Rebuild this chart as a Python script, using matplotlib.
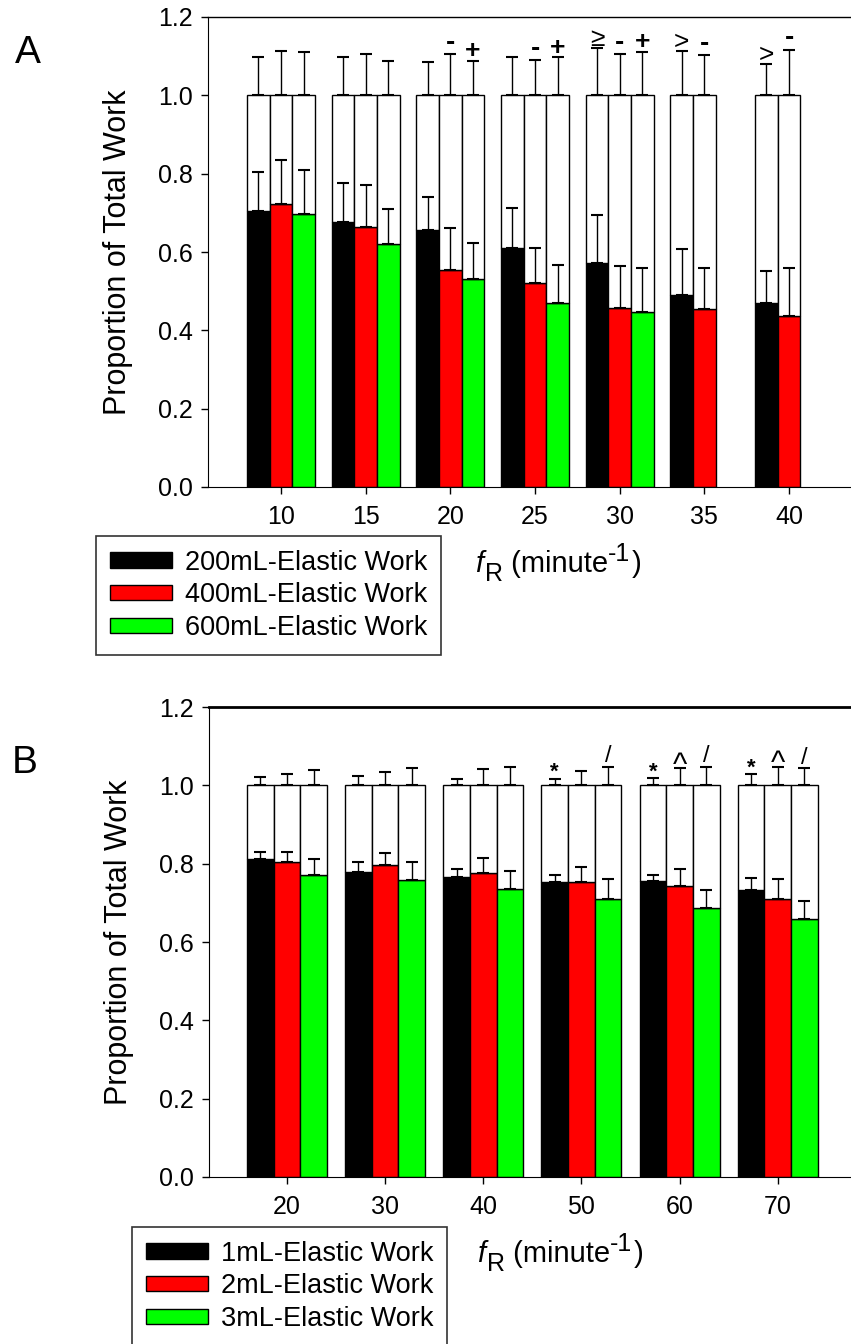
import numpy as np
import matplotlib.pyplot as plt
from matplotlib.patches import Patch

plt.rcParams['font.family'] = ['Liberation Sans', 'DejaVu Sans']

nan = np.nan

# ---- panel A: elastic work proportion vs fR, by tidal volume ----
freq_a = [10, 15, 20, 25, 30, 35, 40]
labels_a = ['200mL-Elastic Work', '400mL-Elastic Work', '600mL-Elastic Work']
elastic_a = [
    [0.704, 0.677, 0.655, 0.611, 0.572, 0.491, 0.470],
    [0.722, 0.663, 0.555, 0.520, 0.457, 0.454, 0.437],
    [0.696, 0.621, 0.532, 0.470, 0.447, nan, nan],
]
elastic_err_a = [
    [0.099, 0.100, 0.086, 0.101, 0.123, 0.116, 0.081],
    [0.114, 0.107, 0.107, 0.090, 0.108, 0.104, 0.121],
    [0.114, 0.090, 0.090, 0.098, 0.111, nan, nan],
]
total_err_a = [
    [0.098, 0.098, 0.084, 0.098, 0.120, 0.114, 0.081],
    [0.114, 0.105, 0.106, 0.091, 0.105, 0.102, 0.117],
    [0.111, 0.088, 0.088, 0.097, 0.111, nan, nan],
]
sig_a = [
    ['', '', '', '', '≥', '>', '>'],
    ['', '', '-', '-', '-', '-', '-'],
    ['', '', '+', '+', '+', '', ''],
]

# ---- panel B ----
freq_b = [20, 30, 40, 50, 60, 70]
labels_b = ['1mL-Elastic Work', '2mL-Elastic Work', '3mL-Elastic Work']
elastic_b = [
    [0.812, 0.780, 0.766, 0.753, 0.757, 0.734],
    [0.803, 0.796, 0.776, 0.752, 0.743, 0.711],
    [0.770, 0.759, 0.736, 0.711, 0.688, 0.659],
]
elastic_err_b = [
    [0.019, 0.025, 0.020, 0.019, 0.015, 0.029],
    [0.028, 0.031, 0.039, 0.040, 0.043, 0.049],
    [0.041, 0.046, 0.046, 0.049, 0.046, 0.045],
]
total_err_b = [
    [0.022, 0.025, 0.017, 0.017, 0.018, 0.028],
    [0.028, 0.034, 0.041, 0.037, 0.044, 0.048],
    [0.040, 0.045, 0.047, 0.048, 0.048, 0.044],
]
sig_b = [
    ['', '', '', '*', '*', '*'],
    ['', '', '', '', '^', '^'],
    ['', '', '', '/', '/', '/'],
]

colors = ['#000000', '#ff0000', '#00ff00']

# symbol style: fontsize, weight, baseline offset above the cap (points)
sym_style = {
    '-': (20, 'bold', 3.0),
    '+': (19, 'bold', 2.0),
    '>': (19, 'normal', 1.0),
    '≥': (19, 'normal', 2.0),
    '*': (16, 'bold', 0.5),
    '/': (17, 'normal', 3.0),
    '^': (22, 'normal', -4.0),
}


def draw_panel(ax, freq, elastic, elastic_err, total_err, sig, width, xlim, top_lw):
    freq = np.array(freq, dtype=float)
    for k in range(3):
        el = np.array(elastic[k])
        ok = ~np.isnan(el)
        x = freq[ok] + (k - 1) * width
        el = el[ok]
        e1 = np.array(elastic_err[k])[ok]
        e2 = np.array(total_err[k])[ok]
        ax.bar(x, el, width, color=colors[k], edgecolor='black', linewidth=1, zorder=2)
        ax.bar(x, 1 - el, width, bottom=el, color='white', edgecolor='black',
               linewidth=1, zorder=2)
        ax.errorbar(x, el, yerr=[np.zeros_like(e1), e1], fmt='none', ecolor='black',
                    elinewidth=1, capsize=4.5, capthick=1.5, zorder=3)
        ax.errorbar(x, np.ones_like(el), yerr=[np.zeros_like(e2), e2], fmt='none',
                    ecolor='black', elinewidth=1, capsize=4.5, capthick=1.5, zorder=3)
        labs = [s for s, o in zip(sig[k], ok) if o]
        for xi, ei, s in zip(x, e2, labs):
            if not s:
                continue
            fs, fw, off = sym_style[s]
            ax.annotate(s, (xi, 1 + ei), xytext=(0, off), textcoords='offset points',
                        ha='center', va='baseline', fontsize=fs, fontweight=fw,
                        annotation_clip=False)
    ax.set_xlim(*xlim)
    ax.set_ylim(0, 1.2)
    ax.set_xticks(freq)
    ax.set_xticklabels([str(int(f)) for f in freq])
    ax.set_yticks(np.arange(0, 1.21, 0.2))
    ax.set_yticklabels(['%.1f' % v for v in np.arange(0, 1.21, 0.2)])
    ax.spines['right'].set_visible(False)
    ax.spines['top'].set_linewidth(top_lw)
    ax.tick_params(direction='out', length=5, width=1, labelsize=18)
    ax.tick_params(axis='x', pad=8)
    ax.tick_params(axis='y', pad=6)
    ax.set_ylabel('Proportion of Total Work', fontsize=22)
    ax.yaxis.set_label_coords(-0.14, 0.5)
    ax.yaxis.label.set_va('center')


def xlabel(ax, x_px, base_px):
    # f_R (minute^-1), built from pieces so sub/superscript keep their size
    first = ax.figure.text(x_px / W, 1 - base_px / H, 'f', fontsize=21,
                           style='italic', va='baseline', ha='left')
    pieces = [('R', 18, 1, -6.0), (' (minute', 21, 0, 6.0),
              ('-1', 18, 0, 8.5), (')', 21, 1, -8.5)]
    prev = first
    for txt, fs, dx, dy in pieces:
        prev = ax.annotate(txt, xy=(1, 0), xycoords=prev, xytext=(dx, dy),
                           textcoords='offset points', fontsize=fs,
                           va='bottom', ha='left', annotation_clip=False)


W, H = 851, 1344
fig = plt.figure(figsize=(W / 100, H / 100), dpi=100)

ax_a = fig.add_axes([208 / W, 1 - 487 / H, (W - 208) / W, 470 / H])
draw_panel(ax_a, freq_a, elastic_a, elastic_err_a, total_err_a, sig_a,
           1.335, (5.69, 43.66), 1.0)

ax_b = fig.add_axes([209 / W, 1 - 1177 / H, (W - 209) / W, 470 / H])
draw_panel(ax_b, freq_b, elastic_b, elastic_err_b, total_err_b, sig_b,
           2.72, (12.05, 77.47), 2.0)

for labels, left, top in [(labels_a, 96, 536), (labels_b, 132, 1227)]:
    handles = [Patch(facecolor=c, edgecolor='black', linewidth=1) for c in colors]
    leg = fig.legend(handles, labels, loc='upper left',
                     bbox_to_anchor=(left / W, 1 - top / H), borderaxespad=0,
                     fontsize=19.5, frameon=True, fancybox=False, framealpha=1,
                     edgecolor='#333333', borderpad=0.5, handlelength=2.3,
                     handleheight=0.5, handletextpad=0.5, labelspacing=0.25)
    leg.get_frame().set_linewidth(1.2)

xlabel(ax_a, 475, 572)
xlabel(ax_b, 477, 1262)

fig.text(15 / W, 1 - 63 / H, 'A', fontsize=28, va='baseline', ha='left')
fig.text(12 / W, 1 - 773 / H, 'B', fontsize=28, va='baseline', ha='left')

fig.savefig('out.png', dpi=100)
